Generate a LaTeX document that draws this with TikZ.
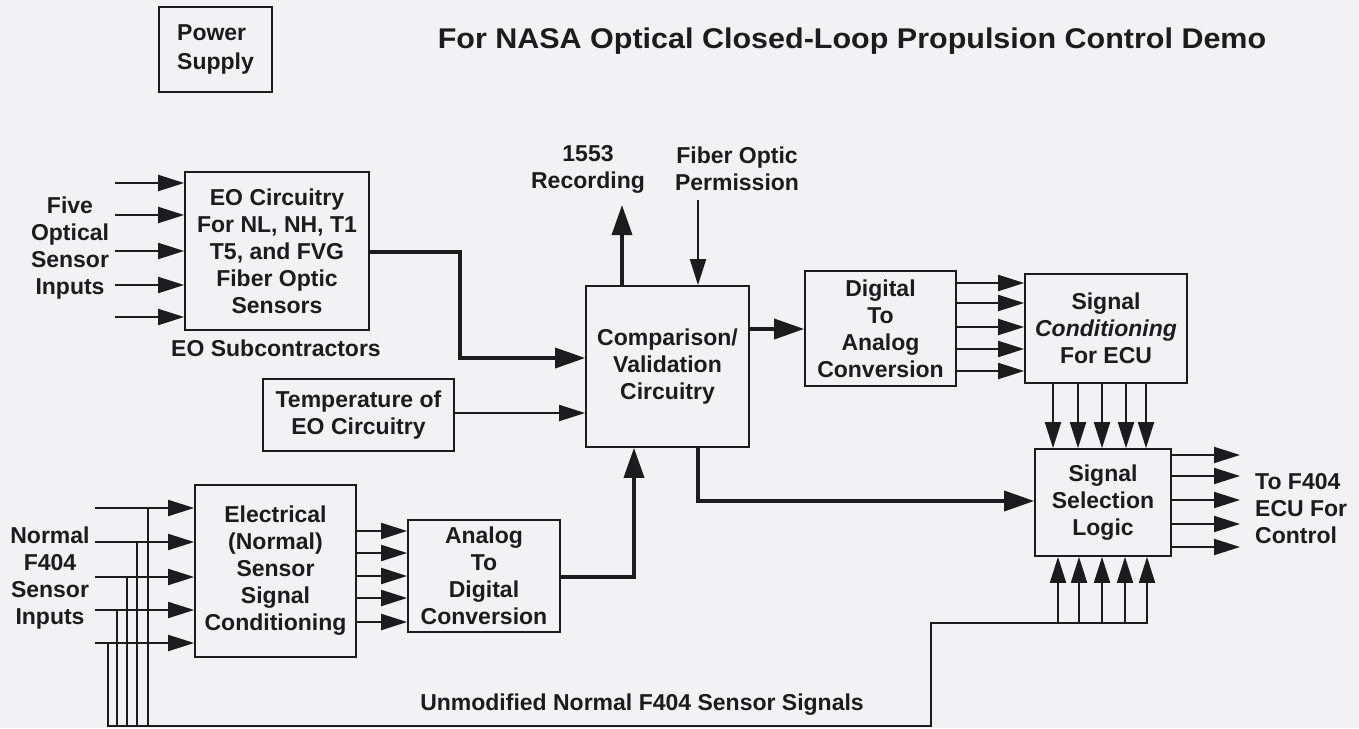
\documentclass[tikz,border=0pt]{standalone}
\usepackage{fontspec}
\usepackage{graphicx}
\setmainfont{Liberation Sans}
\usetikzlibrary{arrows.meta}
\definecolor{bgc}{HTML}{F2F2F4}
\definecolor{ink}{HTML}{1C1C1E}
\newcommand\bxf{\fontsize{23}{27}\selectfont\bfseries}
\begin{document}
\begin{tikzpicture}[x=1pt,y=-1pt,
  blk/.style={draw=ink, line width=1.7pt, inner sep=0pt, align=center, font=\bxf, text=ink},
  lbl/.style={inner sep=0pt, align=center, font=\bxf, text=ink},
  wire/.style={draw=ink, line width=1.9pt},
  sig/.style={draw=ink, line width=1.9pt, -{Triangle[length=26pt,width=16pt]}},
  big/.style={draw=ink, line width=3.6pt, -{Triangle[length=30pt,width=20pt]}}]
\fill[bgc] (0,0) rectangle (1359,728);
\useasboundingbox (0,0) rectangle (1359,728);

% title
\node[lbl, anchor=base] (title) at (852,48) {\fontsize{28.5}{30}\selectfont\bfseries\scalebox{1.07}[1]{For NASA Optical Closed-Loop Propulsion Control Demo}};

% boxes
\node[blk, minimum width=113pt, minimum height=85pt, align=left, font=\fontsize{23}{29}\selectfont\bfseries] (ps) at (215.5,49.5) {Power\\Supply};
\node[blk, minimum width=184pt, minimum height=158pt] (eo) at (277,251) {EO Circuitry\\For NL, NH, T1\\T5, and FVG\\Fiber Optic\\Sensors};
\node[lbl] (five) at (70,248) {Five\\Optical\\Sensor\\Inputs};
\node[lbl] (eosub) at (276,348) {EO Subcontractors};
\node[blk, minimum width=191pt, minimum height=72pt] (temp) at (358.5,415) {Temperature of\\EO Circuitry};
\node[blk, minimum width=163pt, minimum height=161pt] (comp) at (667.5,366.5) {Comparison/\\Validation\\Circuitry};
\node[lbl] (rectxt) at (588,169) {1553\\Recording};
\node[lbl] (fibtxt) at (737,169) {Fiber Optic\\Permission};
\node[blk, minimum width=151pt, minimum height=115pt] (dtoa) at (880.5,328.5) {Digital\\To\\Analog\\Conversion};
\node[blk, minimum width=162pt, minimum height=109pt] (sc) at (1106,328.5) {Signal\\\textit{Conditioning}\\For ECU};
\node[blk, minimum width=136pt, minimum height=107pt] (sel) at (1103,502.5) {Signal\\Selection\\Logic};
\node[lbl, anchor=west, align=left] (tof) at (1255,509) {To F404\\ECU For\\Control};
\node[blk, minimum width=161pt, minimum height=172pt] (elec) at (275.5,571) {Electrical\\(Normal)\\Sensor\\Signal\\Conditioning};
\node[blk, minimum width=152pt, minimum height=112pt] (atod) at (484,576) {Analog\\To\\Digital\\Conversion};
\node[lbl] (normal) at (50,578) {Normal\\F404\\Sensor\\Inputs};
\node[lbl] (unmod) at (642,705) {Unmodified Normal F404 Sensor Signals};

% EO inputs
\foreach \y [count=\i] in {183,215,251,285,317} {
  \coordinate (eoin\i) at (115,\y);
  \draw[sig] (eoin\i) -- (eoin\i -| eo.west);
}
% EO -> comparison
\coordinate (eoj) at (460,300);
\draw[big] (eo.east |- 0,252) -| (eoj) |- (comp.west |- 0,358);
% temperature -> comparison
\draw[sig] (temp.east |- 0,413) -- (comp.west |- 0,413);
% recording and permission
\coordinate (rec) at (622,205);
\draw[big] (comp.north -| rec) -- (rec);
\coordinate (fib) at (698,200);
\draw[sig] (fib) -- (comp.north -| fib);
% comparison -> D/A
\draw[big] (comp.east |- 0,329) -- (dtoa.west |- 0,329);
% D/A -> signal conditioning
\foreach \y in {283,303,327,349,371}
  \draw[sig] (dtoa.east |- 0,\y) -- (sc.west |- 0,\y);
% signal conditioning -> selection
\foreach \x in {1053,1078,1102,1126,1146}
  \draw[sig] (sc.south -| \x,0) -- (sel.north -| \x,0);
% selection outputs
\foreach \y [count=\i] in {455,476,500,524,547} {
  \coordinate (out\i) at (1240,\y);
  \draw[sig] (sel.east |- out\i) -- (out\i);
}
% comparison -> selection
\draw[big] (comp.south -| 698,0) |- (sel.west |- 0,501);
% A/D -> comparison
\draw[big] (atod.east |- 0,577) -| (comp.south -| 634,0);
% electrical inputs with taps
\foreach \y/\tx [count=\i] in {508/148,542/137,577/127,610/117,643/108} {
  \coordinate (ein\i) at (95,\y);
  \draw[sig] (ein\i) -- (ein\i -| elec.west);
  \draw[wire] (\tx,\y) -- (\tx,726);
}
% electrical -> A/D
\foreach \y in {531,553,576,598,622}
  \draw[sig] (elec.east |- 0,\y) -- (atod.west |- 0,\y);
% bus
\coordinate (busa) at (107,726);
\coordinate (busb) at (931,726);
\coordinate (busc) at (931,623);
\coordinate (busd) at (1148,623);
\draw[wire, line join=miter] (busa) -- (busb) -- (busc) -- (busd);
\foreach \x in {1058,1079,1102,1125,1147}
  \draw[sig] (\x,623) -- (sel.south -| \x,0);
\end{tikzpicture}
\end{document}
